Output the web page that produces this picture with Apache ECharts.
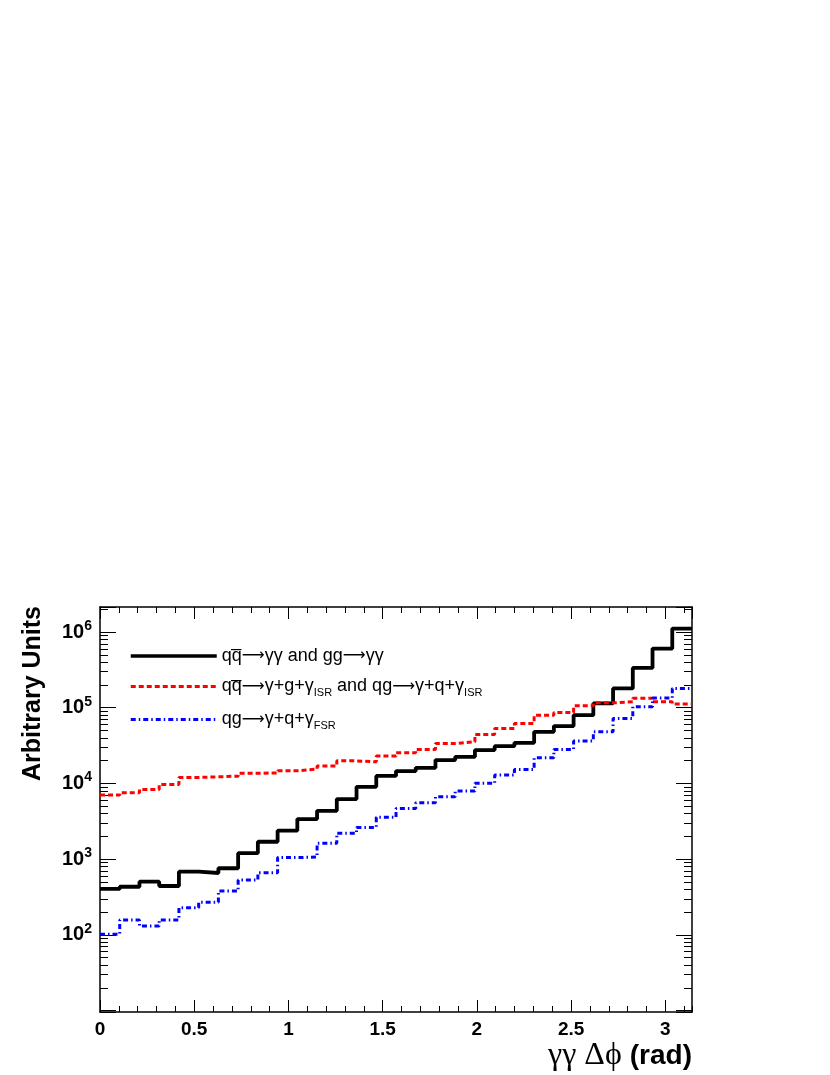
<!DOCTYPE html>
<html>
<head>
<meta charset="utf-8">
<script src="https://cdn.jsdelivr.net/npm/echarts@6/dist/echarts.min.js"></script>
<style>
    html, body { margin: 0; padding: 0; background: #fff; }
    #chart { width: 830px; height: 1075px; }
</style>
</head>
<body>
<div id="chart"></div>
<script>
    // 30 bins from 0 to pi
    const nBins = 30;
    const xMax = Math.PI;
    const xTickLabels = ['0', '0.5', '1', '1.5', '2', '2.5', '3'];
    const yTickExp = [2, 3, 4, 5, 6];

    const seriesNames = ['direct', 'isr', 'fsr'];

    // qqbar -> gg and gg -> gg
    const directVals = [405, 433, 505, 443, 684, 657, 759, 1200, 1700, 2380,
        3390, 4360, 6220, 9040, 12600, 14600, 16100, 20400, 22500, 27600,
        31100, 34400, 48100, 57200, 79800, 114000, 180000, 336000, 605000, 1110000];
    // ISR
    const isrVals = [7030, 7530, 8350, 9730, 12000, 12250, 12500, 13600, 13800, 14700,
        15500, 17000, 19900, 19300, 23000, 25400, 28200, 33800, 35500, 44500,
        53400, 62100, 79800, 86700, 106000, 116000, 120000, 133000, 120000, 112000];
    // FSR
    const fsrVals = [102, 158, 131, 158, 229, 270, 380, 531, 664, 1050,
        1070, 1620, 2200, 2630, 3570, 4690, 5560, 6680, 7940, 10100,
        12900, 15300, 21800, 28200, 36300, 48100, 72300, 103000, 135000, 180000];

    function toSteps(vals) {
        let pts = vals.map(function (v, i) { return [i * xMax / nBins, v]; });
        pts.push([xMax, vals[vals.length - 1]]);
        return pts;
    }

    const font = 'Liberation Sans, Arial, Helvetica, sans-serif';
    const arr = '{a|\u27f6}';
    const legendText = {
        direct: '{t|qq\u0305}' + arr + '{t|\u03b3\u03b3 and gg}' + arr + '{t|\u03b3\u03b3}',
        isr: '{t|qq\u0305}' + arr + '{t|\u03b3+g+\u03b3}{s|ISR}{t| and qg}' + arr + '{t|\u03b3+q+\u03b3}{s|ISR}',
        fsr: '{t|qg}' + arr + '{t|\u03b3+q+\u03b3}{s|FSR}'
    };

    function xAxisCfg(pos, interval, tickLen, showLine, showLabel) {
        return {
            type: 'value', min: 0, max: xMax, interval: interval, position: pos,
            axisLine: { show: showLine, onZero: false, lineStyle: { color: '#000', width: 1.5 } },
            axisTick: { show: true, inside: true, length: tickLen, lineStyle: { color: '#000', width: 1 } },
            axisLabel: {
                show: showLabel, margin: 8, color: '#000', fontFamily: font, fontWeight: 'bold', fontSize: 19,
                showMaxLabel: false,
                formatter: function (v) {
                    let s = String(Math.round(v * 10) / 10);
                    return xTickLabels.indexOf(s) >= 0 ? s : '';
                }
            },
            splitLine: { show: false }
        };
    }

    function yAxisCfg(pos, showLabel) {
        return {
            type: 'log', min: 9.6, max: 2.14e6, position: pos,
            axisLine: { show: true, onZero: false, lineStyle: { color: '#000', width: 1.5 } },
            axisTick: { show: true, inside: true, length: 16, lineStyle: { color: '#000', width: 1 } },
            minorTick: { show: true, splitNumber: 9, length: 8, lineStyle: { color: '#000', width: 1 } },
            axisLabel: {
                show: showLabel, margin: 8, color: '#000',
                showMinLabel: false, showMaxLabel: false,
                formatter: function (v) {
                    let lg = Math.log10(v);
                    let e = Math.round(lg);
                    if (Math.abs(lg - e) > 0.01 || yTickExp.indexOf(e) < 0) return '';
                    return '{b|10}{e|' + e + '}';
                },
                rich: {
                    b: { fontFamily: font, fontWeight: 'bold', fontSize: 20, color: '#000' },
                    e: { fontFamily: font, fontWeight: 'bold', fontSize: 14, color: '#000', padding: [0, 0, 12, 0] }
                }
            },
            splitLine: { show: false },
            minorSplitLine: { show: false }
        };
    }

    let myChart = echarts.init(document.getElementById('chart'));
    myChart.setOption({
        backgroundColor: '#fff',
        animation: false,
        grid: { left: 100, right: 138, top: 607, bottom: 63, show: false },
        xAxis: [
            xAxisCfg('bottom', 0.5, 12, true, true),
            xAxisCfg('top', 0.5, 12, true, false),
            xAxisCfg('bottom', 0.1, 6, false, false),
            xAxisCfg('top', 0.1, 6, false, false)
        ],
        yAxis: [
            yAxisCfg('left', true),
            yAxisCfg('right', false)
        ],
        legend: {
            orient: 'vertical', left: 129, top: 647, padding: 0,
            itemWidth: 86, itemHeight: 14, itemGap: 10,
            itemStyle: { color: 'transparent', borderWidth: 0, opacity: 0 },
            data: [
                { name: 'direct', lineStyle: { width: 3.5 } },
                { name: 'isr', lineStyle: { width: 3 } },
                { name: 'fsr', lineStyle: { width: 3 } }
            ],
            formatter: function (name) { return legendText[name]; },
            textStyle: {
                rich: {
                    t: { fontFamily: font, fontSize: 18, color: '#000', lineHeight: 20 },
                    a: { fontFamily: 'DejaVu Sans, sans-serif', fontSize: 16, color: '#000', lineHeight: 20 },
                    s: { fontFamily: font, fontSize: 11, color: '#000', lineHeight: 8, padding: [12, 0, 0, 0] }
                }
            }
        },
        graphic: [
            {
                type: 'text', x: 33, y: 606, rotation: Math.PI / 2,
                style: {
                    text: 'Arbitrary Units', fontFamily: font, fontWeight: 'bold', fontSize: 25,
                    fill: '#000', align: 'right', verticalAlign: 'middle'
                }
            },
            {
                type: 'text', x: 692, y: 1056,
                style: {
                    text: '{g|\u03b3\u03b3 \u0394\u03d5 }{r|(rad)}', align: 'right', verticalAlign: 'middle',
                    rich: {
                        g: { fontFamily: 'Liberation Serif, serif', fontSize: 32, fill: '#000' },
                        r: { fontFamily: font, fontWeight: 'bold', fontSize: 28, fill: '#000' }
                    }
                }
            }
        ],
        series: [
            {
                name: 'direct', type: 'line', step: 'end', symbol: 'none',
                data: toSteps(directVals),
                lineStyle: { color: '#000', width: 3.8 },
                itemStyle: { color: '#000' }
            },
            {
                name: 'isr', type: 'line', step: 'end', symbol: 'none',
                data: toSteps(isrVals),
                lineStyle: { color: '#ff0000', width: 3, type: [5, 3] },
                itemStyle: { color: '#ff0000' }
            },
            {
                name: 'fsr', type: 'line', step: 'end', symbol: 'none',
                data: toSteps(fsrVals),
                lineStyle: { color: '#0000ff', width: 3, type: [5, 3, 1.5, 3] },
                itemStyle: { color: '#0000ff' }
            }
        ]
    });
</script>
</body>
</html>
